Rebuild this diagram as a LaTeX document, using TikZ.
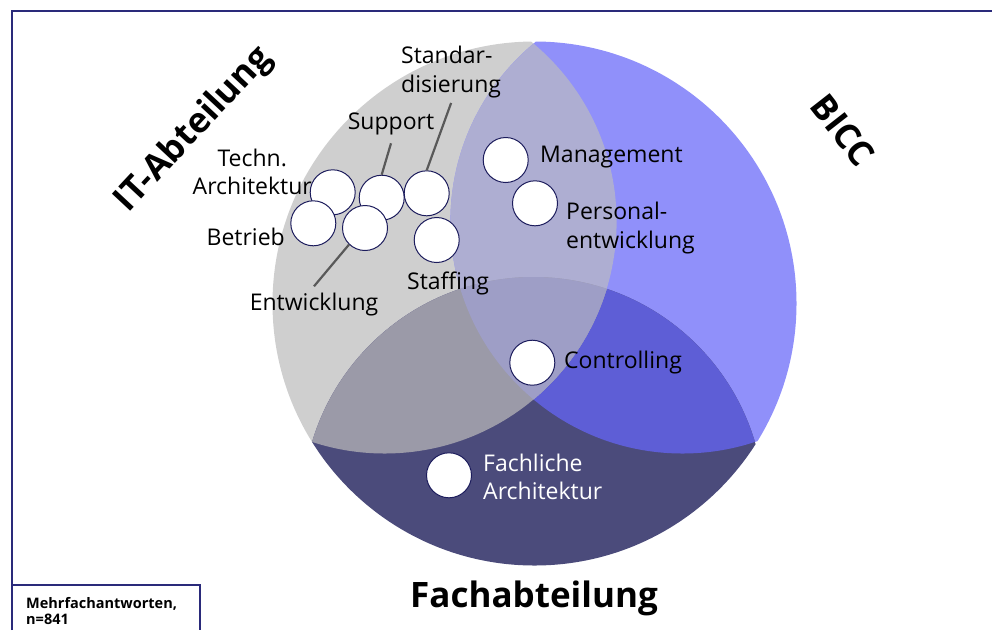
\documentclass[tikz,border=0pt]{standalone}
\usepackage{fontspec}
\setmainfont{Open Sans}
\usetikzlibrary{positioning}

\definecolor{itgray}{HTML}{CFCFCF}
\definecolor{biccblue}{HTML}{9090FA}
\definecolor{fachnavy}{HTML}{4B4B7B}
\definecolor{itbicc}{HTML}{AEAED2}
\definecolor{itfach}{HTML}{9B9AA8}
\definecolor{biccfach}{HTML}{5E5ED6}
\definecolor{allthree}{HTML}{9E9EC6}
\definecolor{dotline}{HTML}{1C1C5C}
\definecolor{leadgray}{HTML}{595959}
\definecolor{frameblue}{HTML}{2A2A7A}

\begin{document}
\begin{tikzpicture}[x=1pt,y=-1pt,
  dot/.style={circle,draw=dotline,fill=white,line width=1pt,minimum size=45pt,inner sep=0pt},
  lbl/.style={font=\fontsize{23}{28.5}\selectfont,inner sep=0pt},
  group/.style={font=\fontsize{35}{38}\selectfont\bfseries,inner sep=0pt},
  lead/.style={draw=leadgray,line width=2.2pt},
  frameline/.style={draw=frameblue,line width=1.3pt}]
  \useasboundingbox (0,0) rectangle (992,630);

  % Centres
  \coordinate (oc) at (534.5,303.5);
  \coordinate (itc) at (384.6,221.5);
  \coordinate (biccc) at (682.4,221.5);
  \coordinate (fachc) at (533.5,508);

  % Regions
  \begin{scope}
    \clip (oc) circle[radius=262];
    \fill[itgray] (itc) circle[radius=232];
    \fill[biccblue] (biccc) circle[radius=232];
    \fill[fachnavy] (fachc) circle[radius=231];
    \begin{scope}
      \clip (biccc) circle[radius=232];
      \fill[biccfach] (fachc) circle[radius=231];
    \end{scope}
    \begin{scope}
      \clip (itc) circle[radius=232];
      \fill[itbicc] (biccc) circle[radius=232];
      \fill[itfach] (fachc) circle[radius=231];
      \clip (biccc) circle[radius=232];
      \fill[allthree] (fachc) circle[radius=231];
    \end{scope}
  \end{scope}

  % Frame
  \draw[frameline] (12,630) -- (12,11) -- (992,11);
  \draw[frameline] (12,585) -- (200,585) -- (200,630);

  % Groups
  \node[group,rotate=47] (itlbl) at (194,130) {IT-Abteilung};
  \node[group,rotate=-52] (bicclbl) at (843,130) {BICC};
  \node[group] (fachlbl) at (534,598) {Fachabteilung};

  % Answers
  \node[lbl] (stdlbl) at (401,72) [anchor=west,align=left] {Standar-\\disierung};
  \node[lbl] (supportlbl) at (391,124) {Support};
  \node[lbl] (technlbl) at (312,172) [anchor=east,align=center] {Techn.\\Architektur};
  \node[lbl] (betrieblbl) at (285,237) [anchor=east] {Betrieb};
  \node[lbl] (entwlbl) at (314,305) {Entwicklung};
  \node[lbl] (stafflbl) at (448,283) {Staffing};
  \node[lbl] (mgmtlbl) at (540,157) [anchor=west] {Management};
  \node[lbl] (perslbl) at (566,228) [anchor=west,align=left] {Personal-\\entwicklung};
  \node[lbl] (ctrllbl) at (564,363) [anchor=west] {Controlling};
  \node[lbl,white] (fachllbl) at (483,477) [anchor=west,align=left] {Fachliche\\Architektur};

  % Dots
  \node[dot] (techn) at (332.7,192.3) {};
  \node[dot] (support) at (381.7,197.7) {};
  \node[dot] (standard) at (426.7,193.3) {};
  \node[dot] (betrieb) at (313.3,223.3) {};
  \node[dot] (entw) at (365,228) {};
  \node[dot] (staffing) at (436.7,240) {};
  \node[dot] (mgmt) at (505.7,160) {};
  \node[dot] (personal) at (535,203.3) {};
  \node[dot] (ctrl) at (532.3,362.7) {};
  \node[dot] (fachl) at (449,475.3) {};

  % Leaders
  \draw[lead] ([yshift=-8pt]supportlbl.south) -- (support.north);
  \draw[lead] ([yshift=-5pt]stdlbl.south) -- (standard.north);
  \draw[lead] (entw.226) -- ([yshift=7pt]entwlbl.north);

  % Note
  \node[font=\fontsize{14.5}{16.5}\selectfont\bfseries,align=left,anchor=north west,inner sep=0pt] (note) at (26,597) {Mehrfachantworten,\\n=841};
\end{tikzpicture}
\end{document}
